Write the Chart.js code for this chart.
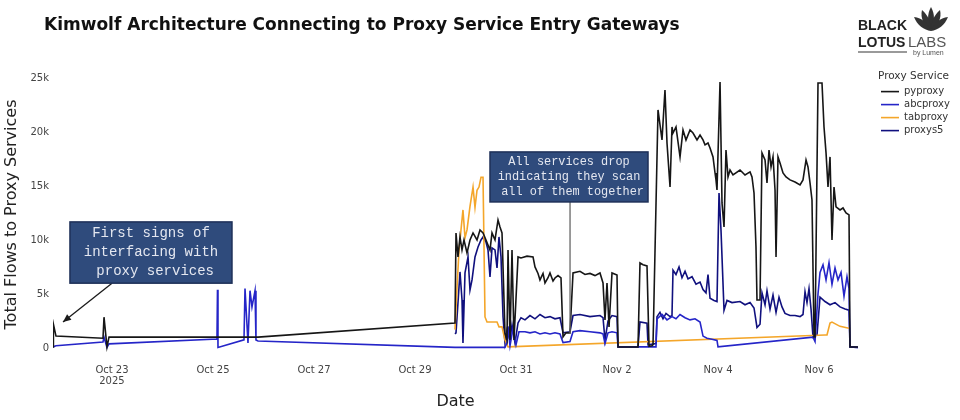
<!DOCTYPE html>
<html>
<head>
<meta charset="utf-8">
<title>Kimwolf Architecture Connecting to Proxy Service Entry Gateways</title>
<script src="https://cdn.jsdelivr.net/npm/chart.js@4.4.1/dist/chart.umd.min.js"></script>
<style>
  html, body { margin: 0; padding: 0; background: #fff; }
  #wrap { position: relative; width: 960px; height: 420px; overflow: hidden; }
  #chart { position: absolute; left: 0; top: 0; }
  .title { position: absolute; left: 44px; top: 13px; font: bold 17px/22px "DejaVu Sans", Verdana, sans-serif; color: #111; white-space: nowrap; }
  .logo { position: absolute; white-space: nowrap; font-family: "Liberation Sans", Arial, sans-serif; color: #222; }
  .logo.b { font-weight: bold; font-size: 14px; line-height: 16px; }
  .logo.l { font-size: 15px; line-height: 18px; color: #555; }
  .logo.s { font-size: 7px; line-height: 8px; color: #555; }
  .rule { position: absolute; left: 858px; top: 51px; width: 49px; height: 2px; background: #9a9a9a; }
  .lotus { position: absolute; left: 911px; top: 6px; }
</style>
</head>
<body>
<div id="wrap">
  <canvas id="chart" width="960" height="420"></canvas>
  <div class="title">Kimwolf Architecture Connecting to Proxy Service Entry Gateways</div>
  <div class="logo b" style="left:858px;top:17px">BLACK</div>
  <div class="logo b" style="left:858px;top:34px">LOTUS</div>
  <div class="logo l" style="left:908px;top:33px">LABS</div>
  <div class="rule"></div>
  <div class="logo s" style="left:913px;top:49px">by Lumen</div>
  <svg class="lotus" width="40" height="30" viewBox="0 0 40 30">
    <g fill="#333">
      <path d="M20 1 C24 8 24 17 20 25 C16 17 16 8 20 1 Z"/>
      <path d="M20 25 C20 16 23 9 29 4 C31 12 27 20 20 25 Z"/>
      <path d="M20 25 C20 16 17 9 11 4 C9 12 13 20 20 25 Z"/>
      <path d="M20 25 C23 17 29 12 37 11 C34 19 27 24 20 25 Z"/>
      <path d="M20 25 C17 17 11 12 3 11 C6 19 13 24 20 25 Z"/>
    </g>
  </svg>
</div>
<script>
'use strict';

// days are counted from Oct 0, so Oct 23 = 23 and Nov 2 = 33
const xTickDays = [23, 25, 27, 29, 31, 33, 35, 37];
const yTickValues = [0, 5000, 10000, 15000, 20000, 25000];
const seriesLabels = ['pyproxy', 'abcproxy', 'tabproxy', 'proxys5'];

const pyproxyDays = [
  21.832, 21.840, 21.891, 22.822, 22.842, 22.901, 22.941, 25.891, 29.792, 29.812,
  29.851, 29.891, 29.931, 29.970, 30.030, 30.089, 30.149, 30.228, 30.287, 30.347,
  30.406, 30.485, 30.525, 30.584, 30.644, 30.683, 30.723, 30.782, 30.822, 30.842,
  30.881, 30.921, 30.960, 31.040, 31.099, 31.218, 31.337, 31.376, 31.436, 31.475,
  31.535, 31.574, 31.634, 31.673, 31.733, 31.772, 31.832, 31.891, 31.931, 31.990,
  32.069, 32.129, 32.267, 32.366, 32.465, 32.564, 32.663, 32.723, 32.762, 32.802,
  32.842, 32.901, 33.000, 33.020, 33.416, 33.455, 33.515, 33.594, 33.634, 33.693,
  33.713, 33.812, 33.891, 33.950, 33.990, 34.050, 34.089, 34.109, 34.168, 34.248,
  34.307, 34.366, 34.446, 34.505, 34.584, 34.644, 34.703, 34.743, 34.802, 34.842,
  34.901, 34.941, 34.960, 34.980, 35.040, 35.079, 35.119, 35.158, 35.198, 35.238,
  35.297, 35.436, 35.535, 35.634, 35.673, 35.713, 35.752, 35.772, 35.832, 35.871,
  35.931, 35.970, 36.010, 36.050, 36.089, 36.129, 36.149, 36.188, 36.228, 36.287,
  36.347, 36.426, 36.525, 36.624, 36.683, 36.743, 36.782, 36.822, 36.861, 36.901,
  36.921, 36.980, 37.059, 37.099, 37.139, 37.178, 37.218, 37.257, 37.297, 37.337,
  37.416, 37.475, 37.535, 37.594, 37.614, 37.772
];
const pyproxyFlows = [
  100, 2200, 1100, 900, 2850, 100, 1000, 1000, 2300, 10650,
  8430, 10280, 9075, 10000, 8800, 10000, 10650, 10000, 10930, 10650,
  10000, 9075, 10650, 10000, 11850, 11200, 10650, 1390, 740, 9075,
  740, 9075, 740, 8430, 8330, 8500, 8430, 7500, 6900, 6300,
  6900, 6020, 6500, 6945, 6200, 6480, 6700, 6480, 1020, 1400,
  1390, 6945, 7100, 6800, 6900, 6700, 6945, 6020, 2590, 6020,
  1950, 6945, 6760, 90, 90, 7870, 7700, 7600, 150, 200,
  300, 22040, 19260, 23890, 18980, 14900, 20460, 19900, 20460, 17690,
  20190, 19260, 20190, 19900, 19260, 19720, 19260, 18800, 18980, 18520,
  17690, 16200, 15560, 14630, 24630, 13430, 11200, 18330, 15830, 16480,
  16020, 16480, 16020, 16300, 15830, 14350, 9350, 4440, 4440, 18060,
  17410, 15280, 18330, 16760, 17690, 14630, 8430, 17690, 17130, 16200,
  15830, 15560, 15370, 15090, 15560, 17410, 16760, 15280, 13700, 1020,
  1020, 24540, 24540, 20460, 18060, 14900, 17690, 10000, 14900, 13060,
  12780, 12960, 12500, 12320, 90, 90
];

const abcproxyDays = [
  21.832, 21.891, 22.822, 22.842, 22.901, 22.941, 25.079, 25.089, 25.099, 25.614,
  25.634, 25.693, 25.733, 25.772, 25.832, 25.851, 25.891, 29.792, 30.782, 30.822,
  30.842, 30.881, 30.940, 31.000, 31.059, 31.178, 31.277, 31.376, 31.475, 31.574,
  31.673, 31.772, 31.871, 31.931, 32.069, 32.129, 32.267, 32.465, 32.663, 32.723,
  32.762, 32.822, 32.901, 33.000, 33.020, 33.772, 33.792, 33.891, 33.990, 34.089,
  34.168, 34.248, 34.347, 34.446, 34.545, 34.644, 34.703, 34.782, 34.881, 34.980,
  35.000, 36.881, 36.921, 36.980, 37.020, 37.079, 37.139, 37.198, 37.257, 37.317,
  37.376, 37.436, 37.495, 37.554, 37.594, 37.614, 37.772
];
const abcproxyFlows = [
  100, 200, 550, 1000, 50, 380, 830, 5400, 50, 750,
  5500, 460, 5300, 3800, 5300, 740, 650, 50, 50, 500,
  2000, 200, 1800, 300, 1500, 1500, 1400, 1500, 1300, 1400,
  1300, 1400, 1300, 500, 600, 1500, 1600, 1500, 1400, 1300,
  400, 1400, 1500, 1400, 100, 100, 2700, 3100, 2600, 2900,
  2700, 3100, 2800, 2600, 2700, 2400, 1100, 900, 800, 700,
  100, 1000, 600, 5000, 7000, 7700, 6300, 7900, 5900, 7400,
  6300, 7000, 4800, 6600, 5500, 100, 50
];

const tabproxyDays = [
  29.792, 29.832, 29.871, 29.891, 29.950, 29.990, 30.030, 30.089, 30.149, 30.188,
  30.228, 30.267, 30.307, 30.347, 30.386, 30.426, 30.624, 30.663, 30.723, 30.782,
  30.842, 37.119, 37.158, 37.218, 37.257, 37.416, 37.614
];
const tabproxyFlows = [
  1700, 5600, 9000, 10000, 12780, 10200, 10930, 13100, 14900, 13000,
  14600, 14900, 15800, 15800, 2870, 2400, 2400, 1950, 1950, 740,
  100, 1200, 1200, 2300, 2400, 2000, 1800
];

const proxys5Days = [
  29.792, 29.812, 29.851, 29.891, 29.931, 29.950, 29.990, 30.050, 30.089, 30.129,
  30.188, 30.248, 30.307, 30.347, 30.406, 30.446, 30.485, 30.525, 30.584, 30.624,
  30.663, 30.703, 30.743, 30.782, 30.822, 30.881, 30.921, 30.980, 31.040, 31.099,
  31.178, 31.277, 31.376, 31.475, 31.574, 31.673, 31.772, 31.871, 31.931, 32.069,
  32.129, 32.267, 32.465, 32.663, 32.723, 32.762, 32.822, 32.901, 33.000, 33.020,
  33.416, 33.455, 33.594, 33.614, 33.772, 33.792, 33.851, 33.911, 33.970, 34.050,
  34.089, 34.109, 34.168, 34.228, 34.287, 34.347, 34.406, 34.485, 34.564, 34.644,
  34.703, 34.762, 34.802, 34.842, 34.921, 34.980, 35.020, 35.059, 35.119, 35.178,
  35.277, 35.436, 35.535, 35.634, 35.713, 35.772, 35.832, 35.871, 35.931, 35.970,
  36.030, 36.089, 36.149, 36.208, 36.267, 36.327, 36.426, 36.525, 36.624, 36.683,
  36.723, 36.762, 36.802, 36.842, 36.881, 36.960, 37.020, 37.119, 37.218, 37.317,
  37.416, 37.515, 37.594, 37.614, 37.772
];
const proxys5Flows = [
  1300, 1400, 4170, 7040, 4440, 460, 6950, 8430, 5370, 6300,
  8430, 9350, 10000, 10280, 9810, 9075, 6570, 9260, 9075, 7410,
  10280, 8430, 2870, 460, 1670, 740, 2130, 460, 2320, 2800,
  2600, 3000, 2700, 3100, 2800, 2900, 2700, 2800, 1400, 1500,
  3000, 3100, 2900, 3000, 2800, 740, 2500, 3000, 2900, 100,
  100, 2400, 2300, 300, 400, 2900, 3300, 2700, 3200, 2900,
  3000, 7200, 6800, 7500, 6500, 7100, 6400, 6600, 5900, 6100,
  5400, 5100, 6800, 4600, 4400, 4300, 14350, 10930, 3500, 4400,
  4200, 4300, 4000, 4200, 3700, 1900, 2200, 5100, 4000, 5300,
  3600, 4900, 3300, 4700, 3800, 3200, 3000, 3000, 2900, 3100,
  5200, 4200, 5500, 3600, 1000, 1200, 4700, 4300, 4000, 4200,
  3800, 3600, 3500, 100, 50
];

const seriesColors = ['#161616', '#2525c8', '#f4a62a', '#10107e'];

// callout boxes, placed in data units
const calloutNotes = [
  {
    lines: ['First signs of', 'interfacing with', ' proxy services'],
    xMin: 22.168, xMax: 25.376, yMin: 6000, yMax: 11670,
    font: '14px "Liberation Mono", "Courier New", monospace', lineGap: 19,
    from: [23.0, 6000], to: [22.03, 2410], arrow: true, stroke: '#1a1a1a'
  },
  {
    lines: ['All services drop', 'indicating they scan', ' all of them together'],
    xMin: 30.485, xMax: 33.614, yMin: 13520, yMax: 18150,
    font: '11.9px "Liberation Mono", "Courier New", monospace', lineGap: 15,
    from: [32.07, 13520], to: [32.07, 1300], arrow: false, stroke: '#666'
  }
];

function dayLabel(d) {
  const text = d <= 31 ? 'Oct ' + d : 'Nov ' + (d - 31);
  return d === xTickDays[0] ? [text, '2025'] : text;
}

function toPoints(days, flows) {
  return days.map((d, i) => ({ x: d, y: flows[i] }));
}

const calloutPlugin = {
  id: 'callouts',
  afterDatasetsDraw(chart) {
    const { ctx, scales: { x, y } } = chart;
    calloutNotes.forEach(note => {
      const left = x.getPixelForValue(note.xMin);
      const right = x.getPixelForValue(note.xMax);
      const top = y.getPixelForValue(note.yMax);
      const bottom = y.getPixelForValue(note.yMin);
      const fx = x.getPixelForValue(note.from[0]), fy = y.getPixelForValue(note.from[1]);
      const tx = x.getPixelForValue(note.to[0]), ty = y.getPixelForValue(note.to[1]);
      ctx.save();
      ctx.strokeStyle = note.stroke;
      ctx.fillStyle = note.stroke;
      ctx.lineWidth = 1.3;
      ctx.beginPath();
      ctx.moveTo(fx, fy);
      ctx.lineTo(tx, ty);
      ctx.stroke();
      if (note.arrow) {
        const ang = Math.atan2(ty - fy, tx - fx);
        const len = 8, wid = 3.5;
        ctx.beginPath();
        ctx.moveTo(tx, ty);
        ctx.lineTo(tx - len * Math.cos(ang) + wid * Math.sin(ang), ty - len * Math.sin(ang) - wid * Math.cos(ang));
        ctx.lineTo(tx - len * Math.cos(ang) - wid * Math.sin(ang), ty - len * Math.sin(ang) + wid * Math.cos(ang));
        ctx.closePath();
        ctx.fill();
      }
      ctx.fillStyle = '#2f4b7c';
      ctx.strokeStyle = '#1e3058';
      ctx.lineWidth = 1.5;
      ctx.fillRect(left, top, right - left, bottom - top);
      ctx.strokeRect(left, top, right - left, bottom - top);
      ctx.fillStyle = '#e4e7f0';
      ctx.font = note.font;
      ctx.textAlign = 'center';
      ctx.textBaseline = 'middle';
      const cx = (left + right) / 2, cy = (top + bottom) / 2;
      note.lines.forEach((line, i) => {
        ctx.fillText(line, cx, cy + (i - (note.lines.length - 1) / 2) * note.lineGap);
      });
      ctx.restore();
    });
  }
};

const legendPlacer = {
  id: 'legendPlacer',
  beforeLayout(chart) {
    const lg = chart.legend;
    if (lg && !lg._fixedWidth) {
      const fit = lg.fit.bind(lg);
      lg.fit = function () { fit(); this.width = 102; };
      lg._fixedWidth = true;
    }
  },
  afterLayout(chart) {
    const lg = chart.legend;
    if (lg) { lg.left += 20; lg.right += 20; }
  }
};

Chart.defaults.font.family = '"DejaVu Sans", Verdana, sans-serif';

const seriesData = [
  toPoints(pyproxyDays, pyproxyFlows),
  toPoints(abcproxyDays, abcproxyFlows),
  toPoints(tabproxyDays, tabproxyFlows),
  toPoints(proxys5Days, proxys5Flows)
];

new Chart(document.getElementById('chart'), {
  type: 'line',
  data: {
    datasets: seriesLabels.map((label, i) => ({
      label: label,
      data: seriesData[i],
      borderColor: seriesColors[i],
      backgroundColor: seriesColors[i],
      borderWidth: 1.6,
      pointRadius: 0,
      tension: 0,
      fill: false
    }))
  },
  options: {
    responsive: false,
    devicePixelRatio: 1,
    animation: false,
    events: [],
    layout: { padding: { top: 67, left: 0, right: 0, bottom: 0 } },
    plugins: {
      tooltip: { enabled: false },
      legend: {
        position: 'right',
        align: 'start',
        title: {
          display: true,
          text: 'Proxy Service',
          position: 'start',
          color: '#333',
          font: { size: 10.5 },
          padding: { top: 4, bottom: 0 }
        },
        labels: {
          usePointStyle: true,
          pointStyle: 'line',
          pointStyleWidth: 18,
          color: '#333',
          font: { size: 10 },
          padding: 3
        }
      }
    },
    scales: {
      x: {
        type: 'linear',
        min: 21.832,
        max: 37.772,
        grid: { display: false, drawTicks: false },
        border: { display: false },
        afterBuildTicks: s => { s.ticks = xTickDays.map(v => ({ value: v })); },
        afterFit: s => { s.height = 58; },
        ticks: {
          callback: v => dayLabel(v),
          color: '#444',
          font: { size: 10, lineHeight: 1.1 },
          padding: 3,
          maxRotation: 0,
          autoSkip: false
        },
        title: {
          display: true,
          text: 'Date',
          color: '#222',
          font: { size: 16 },
          padding: { top: 0, bottom: 9 }
        }
      },
      y: {
        min: -1300,
        max: 26015,
        grid: { display: false, drawTicks: false },
        border: { display: false },
        afterBuildTicks: s => { s.ticks = yTickValues.map(v => ({ value: v })); },
        afterFit: s => { s.width = 53; },
        ticks: {
          callback: v => (v === 0 ? '0' : v / 1000 + 'k'),
          color: '#444',
          font: { size: 10 },
          padding: 4
        },
        title: {
          display: true,
          text: 'Total Flows to Proxy Services',
          color: '#222',
          font: { size: 16 },
          padding: { top: 2, bottom: 0 }
        }
      }
    }
  },
  plugins: [calloutPlugin, legendPlacer]
});
</script>
</body>
</html>
